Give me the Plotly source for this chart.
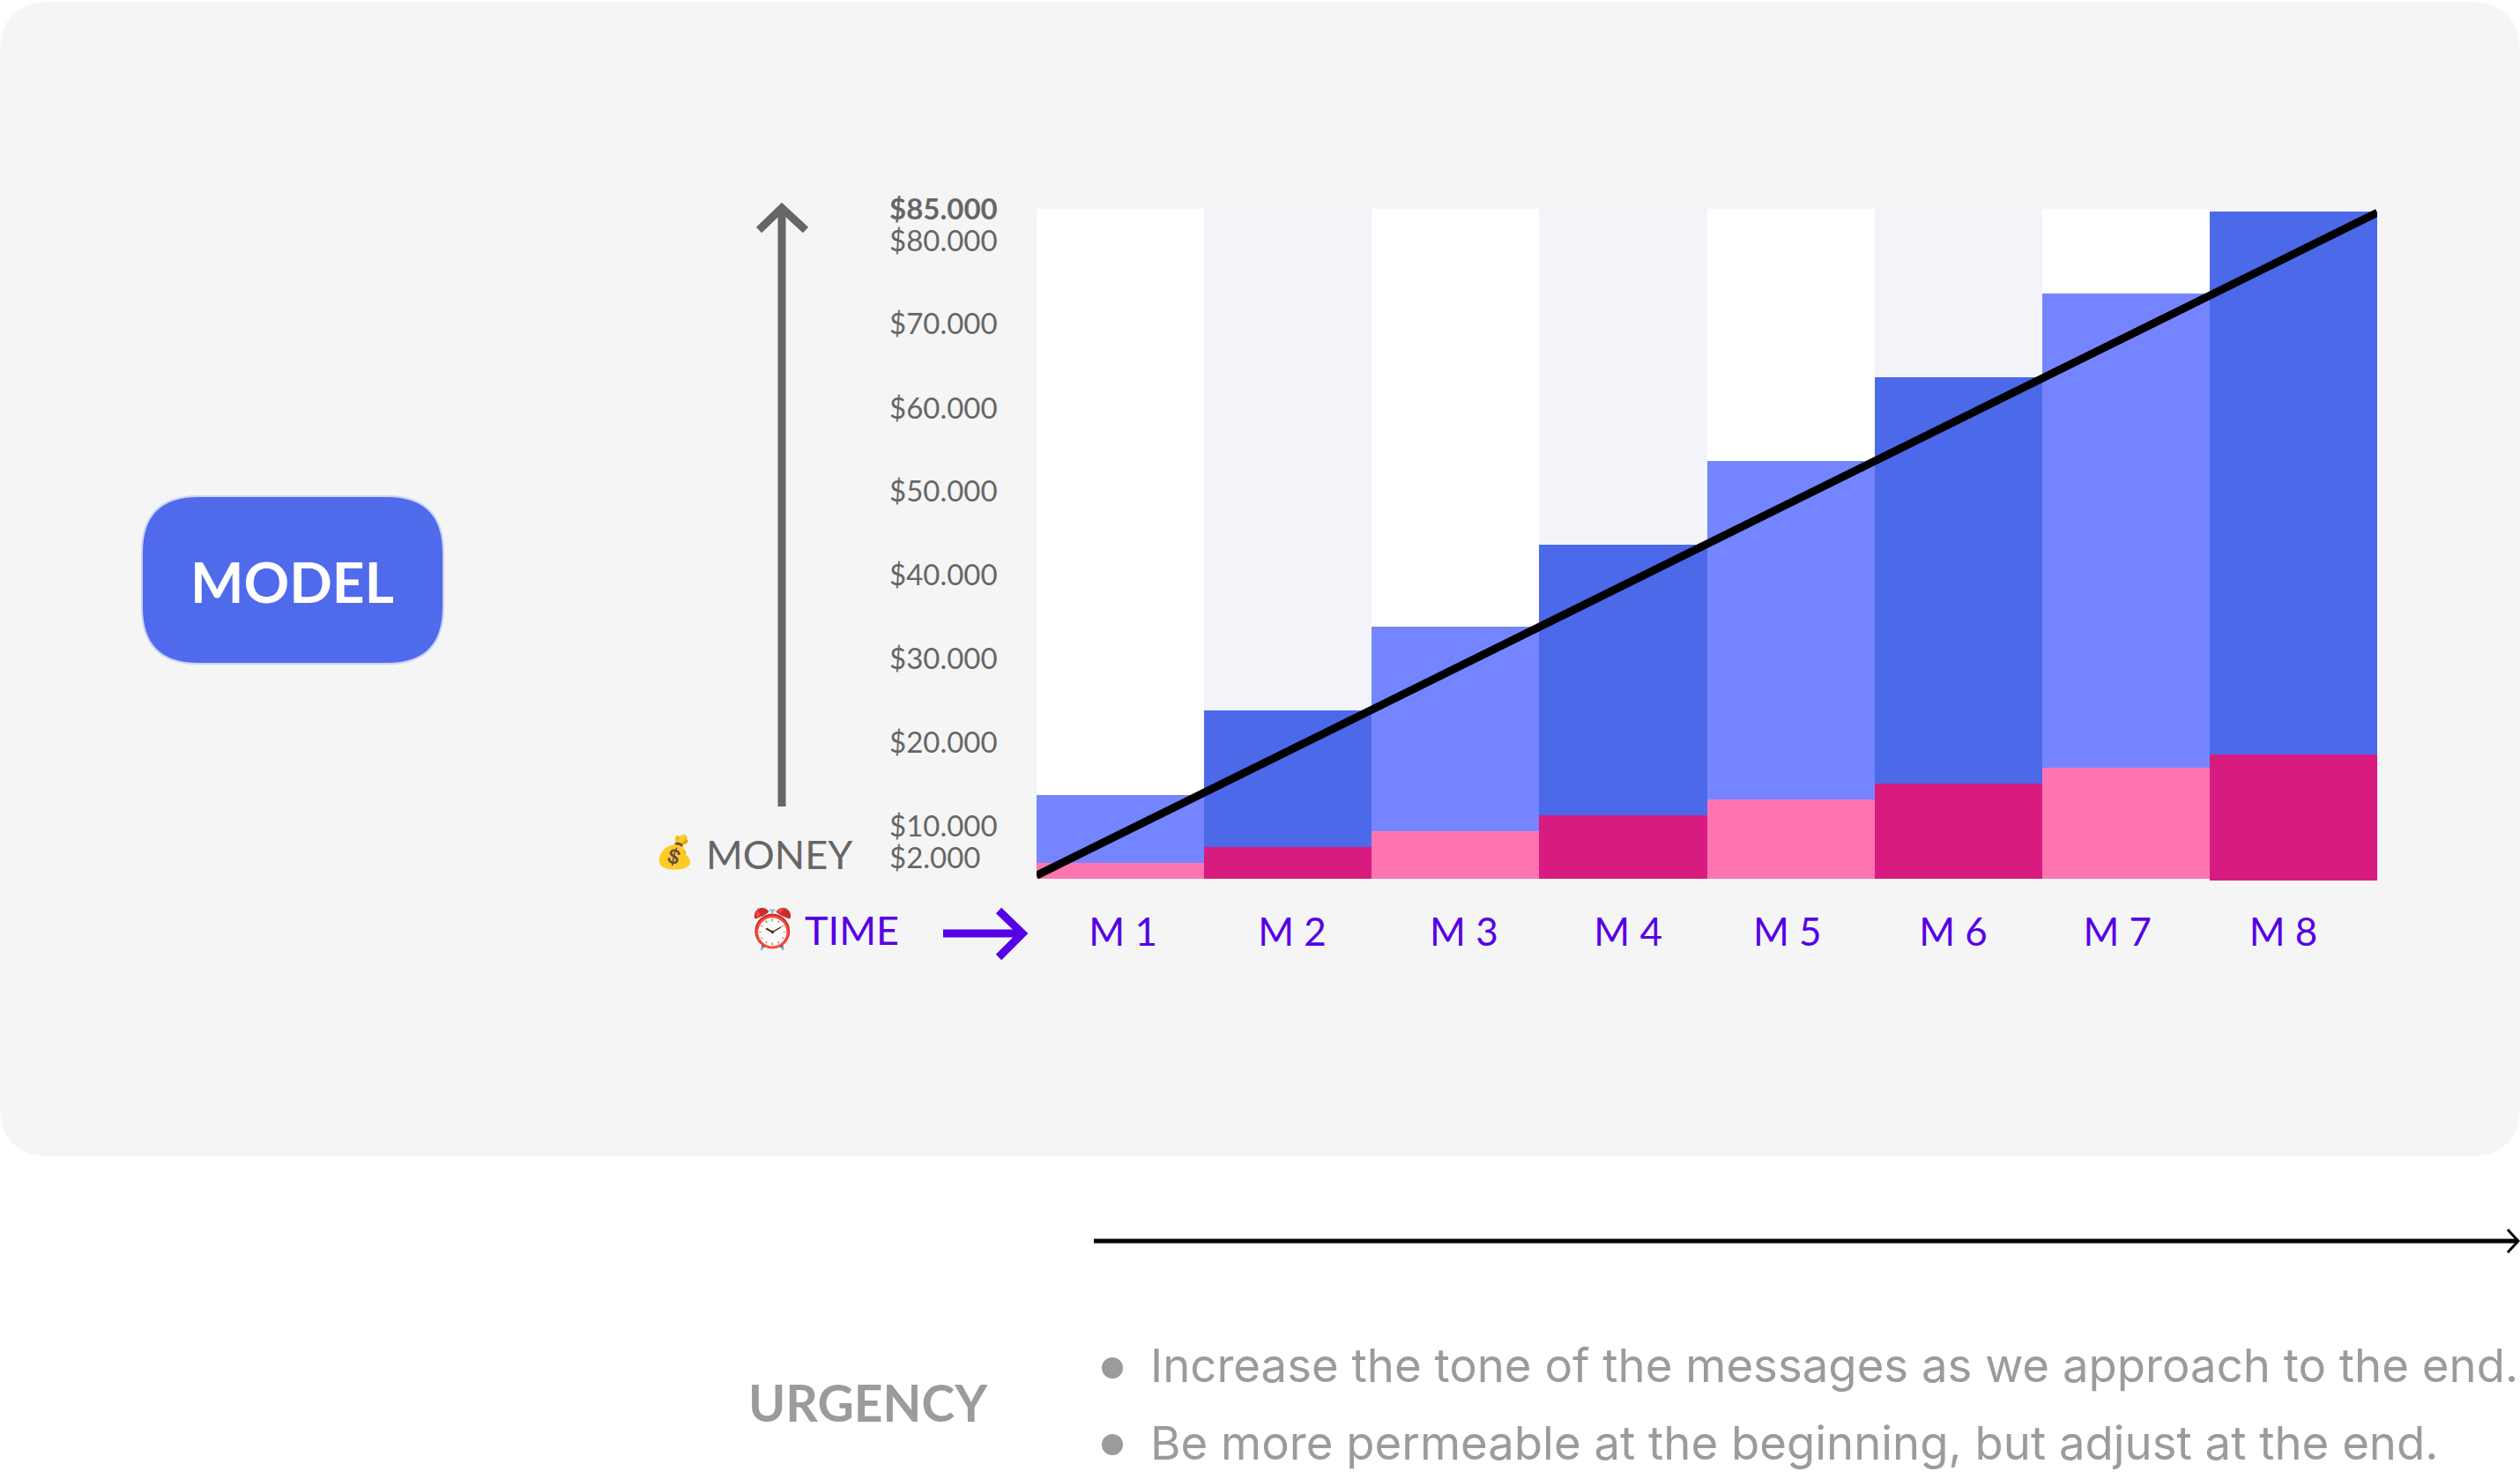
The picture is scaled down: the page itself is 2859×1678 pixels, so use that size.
import plotly.graph_objects as go

# --- data (axis units) ---
months = ["M 1", "M 2", "M 3", "M 4", "M 5", "M 6", "M 7", "M 8"]
ceiling = [80250, 80250, 80250, 80250, 80250, 80250, 80250, 80250]
total = [10030, 20170, 30200, 40000, 50050, 60100, 70100, 79900]
base_top = [1900, 3800, 5700, 7600, 9500, 11400, 13300, 14890]
base_floor = [0, 0, 0, 0, 0, 0, 0, -210]
line_x = [0, 8]
line_y = [400, 79800]
month_tick_pos = [0.516, 1.525, 2.55, 3.53, 4.48, 5.47, 6.45, 7.44]
money_ticks = ["<b>$85.000</b>", "$80.000", "$70.000", "$60.000", "$50.000",
               "$40.000", "$30.000", "$20.000", "$10.000", "$2.000"]
money_tick_pos = [80360, 76560, 66630, 56500, 46570, 36540, 26500, 16470, 6440, 2640]
bullets = ["Increase the tone of the messages as we approach to the end.",
           "Be more permeable at the beginning, but adjust at the end."]

# --- style ---
W, H = 2859, 1678
L, R, T, B = 1176, 2697, 233, 1000
UNIT = 0.00947           # pixels per axis unit
FONT = "Lato"
PURPLE = "#5500E6"
GREY = "#666666"
LGREY = "#9B9B9B"
BLUE = "#4F6BEC"
col_bg = ["#FFFFFF", "#F3F4FA"] * 4
col_total = ["#7585FF", "#4C69EA"] * 4
col_base = ["#FF75B2", "#D81B7F"] * 4

fx = lambda x: (x - L) / (R - L)
fy = lambda y: (B - y) / (B - T)

def shape_path(pts, color, width):
    d = "M " + " L ".join(f"{fx(x)},{fy(y)}" for x, y in pts)
    return dict(type="path", path=d, xref="paper", yref="paper",
                line=dict(color=color, width=width), layer="above")

def rounded(x0, y0, x1, y1, r, fill, line=None):
    rx, ry = r / (R - L), r / (B - T)
    a, b, c, d = fx(x0), fx(x1), fy(y0), fy(y1)
    p = (f"M {a+rx},{c} L {b-rx},{c} Q {b},{c} {b},{c-ry} L {b},{d+ry} Q {b},{d} {b-rx},{d} "
         f"L {a+rx},{d} Q {a},{d} {a},{d+ry} L {a},{c-ry} Q {a},{c} {a+rx},{c} Z")
    return dict(type="path", path=p, xref="paper", yref="paper", fillcolor=fill,
                line=dict(width=2 if line else 0, color=line or fill), layer="below")

xc = [i + 0.5 for i in range(8)]
fig = go.Figure()
fig.add_bar(x=xc, y=ceiling, width=1, marker=dict(color=col_bg, line_width=0), showlegend=False)
fig.add_bar(x=xc, y=total, width=1, marker=dict(color=col_total, line_width=0), showlegend=False)
fig.add_bar(x=xc, y=[t - f for t, f in zip(base_top, base_floor)], base=base_floor, width=1,
            marker=dict(color=col_base, line_width=0), showlegend=False)
fig.add_scatter(x=line_x, y=line_y, mode="lines", line=dict(color="#000000", width=9),
                cliponaxis=False, showlegend=False)

shapes = [
    rounded(0, 2, W, 1312, 58, "#F5F5F5"),
    rounded(161, 563, 503, 753, 64, BLUE, "#C9D2F8"),
    shape_path([(887, 915), (887, 236)], GREY, 9),
    shape_path([(861, 261), (887, 236), (914, 261)], GREY, 9),
    shape_path([(1070, 1059), (1160, 1059)], PURPLE, 9),
    shape_path([(1133, 1033), (1160, 1059), (1133, 1086)], PURPLE, 9),
    shape_path([(1241, 1408), (2856, 1408)], "#000000", 5),
    shape_path([(2845, 1395), (2857, 1408), (2845, 1421)], "#000000", 3),
]
for cy in (1552, 1639):
    shapes.append(dict(type="circle", xref="paper", yref="paper", x0=fx(1250), x1=fx(1274),
                       y0=fy(cy + 12), y1=fy(cy - 12), fillcolor=LGREY, line_width=0))

def note(text, x, y, size, color, anchor="left", family=FONT):
    return dict(text=text, x=fx(x), y=fy(y), xref="paper", yref="paper", showarrow=False,
                xanchor=anchor, yanchor="middle", font=dict(family=family, size=size, color=color))

ann = [dict(text=t, x=fx(1007), y=v, xref="paper", yref="y", showarrow=False, xanchor="left",
            yanchor="middle", font=dict(family=FONT, size=33, color=GREY))
       for t, v in zip(money_ticks, money_tick_pos)]
ann += [
    note("<b>MODEL</b>", 331, 659, 64, "#FFFFFF", "center"),
    note("💰", 765, 965, 36, GREY, "center"),
    note("MONEY", 799, 969, 45, GREY),
    note("⏰", 876, 1052, 44, "#C0392B", "center"),
    note("TIME", 911, 1055, 45, PURPLE),
    note("<b>URGENCY</b>", 847, 1591, 57, LGREY),
    note(bullets[0], 1303, 1549, 52.7, LGREY, family="Inter"),
    note(bullets[1], 1303, 1637, 52.7, LGREY, family="Inter"),
]

fig.update_layout(
    width=W, height=H, barmode="overlay", bargap=0,
    margin=dict(l=L, r=W - R, t=T, b=H - B, pad=0),
    paper_bgcolor="#FFFFFF", plot_bgcolor="rgba(0,0,0,0)",
    shapes=shapes, annotations=ann,
    xaxis=dict(range=[0, 8], tickmode="array", tickvals=month_tick_pos, ticktext=months,
               showgrid=False, zeroline=False, showline=False, ticks="", ticklabelstandoff=28,
               tickfont=dict(family=FONT, size=44, color=PURPLE), automargin=False),
    yaxis=dict(range=[(B - 997) / -UNIT, (997 - T) / UNIT], showgrid=False, zeroline=False,
               showline=False, ticks="", showticklabels=False, automargin=False),
)
fig.write_html("out.html", config={"displayModeBar": False},
               post_script="document.body.style.margin='0';document.body.style.overflow='hidden';")
